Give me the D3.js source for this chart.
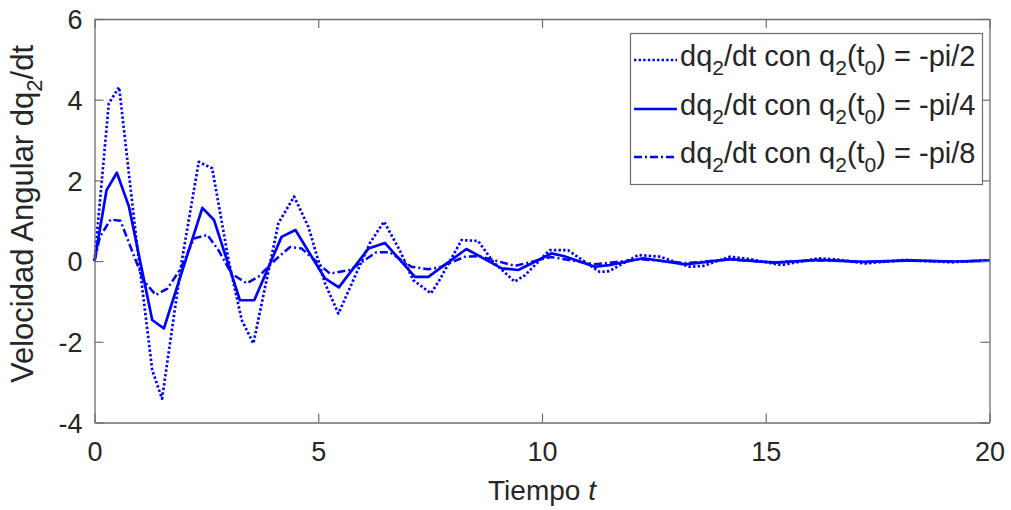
<!DOCTYPE html>
<html><head><meta charset="utf-8">
<script src="https://cdn.jsdelivr.net/npm/d3@7"></script>
<style>
html,body{margin:0;padding:0;background:#fff;}
text{font-family:"Liberation Sans",Arial,Helvetica,sans-serif;fill:#262626;}
</style></head>
<body><svg id="c" width="1011" height="510"></svg>
<script>
// ---- data ----
const xTicks = [0, 5, 10, 15, 20];
const yTicks = [-4, -2, 0, 2, 4, 6];

const tPi2 = [0,0.32,0.55,0.95,1.29,1.51,1.95,2.33,2.63,3.0,3.29,3.55,4.11,4.46,4.78,5.15,5.45,6.15,6.47,6.82,7.12,7.52,7.72,8.2,8.57,8.91,9.39,9.62,10.17,10.58,11.29,11.5,12.15,12.63,13.3,13.6,14.2,14.64,15.35,16.17,16.6,17.21,18.1,19.15,19.9,20];
const vPi2 = [0,3.91,4.31,0.4,-2.70,-3.41,0,2.46,2.30,0,-1.46,-2.04,0.94,1.60,0.85,-0.55,-1.30,0.44,0.98,0.27,-0.47,-0.80,-0.45,0.52,0.50,-0.02,-0.51,-0.35,0.27,0.27,-0.27,-0.25,0.15,0.11,-0.14,-0.12,0.11,0.05,-0.10,0.07,0.04,-0.06,0.03,-0.03,0.02,0.02];

const tPi4 = [0,0.27,0.50,0.77,1.29,1.55,2.41,2.67,3.25,3.57,4.18,4.49,5.15,5.46,6.12,6.49,7.16,7.46,8.31,9.10,9.47,10.21,10.5,11.18,11.5,12.26,13.2,14.2,15.2,16.2,17.2,18.2,19.2,20];
const vPi4 = [0,1.76,2.19,1.35,-1.46,-1.67,1.32,1.02,-0.97,-0.97,0.60,0.77,-0.43,-0.65,0.31,0.45,-0.39,-0.39,0.30,-0.18,-0.22,0.19,0.12,-0.14,-0.10,0.07,-0.08,0.05,-0.04,0.03,-0.02,0.02,-0.01,0.01];

const tPi8 = [0,0.12,0.36,0.58,1.09,1.37,1.63,1.93,2.22,2.52,2.77,3.06,3.40,3.66,4.03,4.37,4.63,5.26,5.71,6.3,6.6,7.08,7.45,7.7,8.28,8.6,9.4,10.2,11.2,12.2,13.2,14.2,15.2,16.2,17.2,18.2,19.2,20];
const vPi8 = [0,0.6,1.03,1.0,-0.47,-0.84,-0.68,-0.18,0.56,0.65,0.27,-0.31,-0.55,-0.39,0.02,0.35,0.31,-0.31,-0.22,0.22,0.22,-0.14,-0.20,-0.16,0.11,0.12,-0.12,0.10,-0.08,0.05,-0.05,0.04,-0.03,0.02,-0.02,0.01,-0.01,0.01];

const seriesNames = ["-pi/2", "-pi/4", "-pi/8"];

// ---- layout ----
const L = 94.5, R = 989.5, T = 19, B = 422.5;
const svg = d3.select("#c");
const x = d3.scaleLinear().domain([0, 20]).range([L, R]);
const y = d3.scaleLinear().domain([-4, 6]).range([B, T]);

const blue = "#0000ff";
const styles = [
  {dash: "2.4,2.2", w: 2.7},
  {dash: null, w: 2.7},
  {dash: "8,3,2,3", w: 2.5}
];
const series = [[tPi2, vPi2], [tPi4, vPi4], [tPi8, vPi8]];

const line = d3.line().x(d => x(d[0])).y(d => y(d[1]));
const gPlot = svg.append("g");
series.forEach((s, i) => {
  const pts = s[0].map((t, k) => [t, s[1][k]]);
  gPlot.append("path").attr("d", line(pts)).attr("fill", "none")
    .attr("stroke", blue).attr("stroke-width", styles[i].w)
    .attr("stroke-dasharray", styles[i].dash)
    .attr("stroke-linejoin", "round");
});

// ---- axes (box with inward ticks on all sides) ----
const axisColor = "#6e6e6e";
const tickLen = 9;
const fmt = d => String(d);
const gx = svg.append("g").attr("transform", `translate(0,${B})`)
  .call(d3.axisBottom(x).tickValues(xTicks).tickFormat(fmt).tickSizeInner(-tickLen).tickSizeOuter(0).tickPadding(19));
const gxTop = svg.append("g").attr("transform", `translate(0,${T})`)
  .call(d3.axisTop(x).tickValues(xTicks).tickSizeInner(-tickLen).tickSizeOuter(0).tickFormat(""));
const gy = svg.append("g").attr("transform", `translate(${L},0)`)
  .call(d3.axisLeft(y).tickValues(yTicks).tickFormat(fmt).tickSizeInner(-tickLen).tickSizeOuter(0).tickPadding(12));
const gyR = svg.append("g").attr("transform", `translate(${R},0)`)
  .call(d3.axisRight(y).tickValues(yTicks).tickSizeInner(-tickLen).tickSizeOuter(0).tickFormat(""));
[gx, gxTop, gy, gyR].forEach(g => {
  g.select(".domain").attr("stroke", axisColor).attr("stroke-width", 1.3);
  g.selectAll(".tick line").attr("stroke", axisColor).attr("stroke-width", 1.2);
  g.selectAll(".tick text").attr("font-size", 27).attr("fill", "#262626")
    .attr("font-family", '"Liberation Sans",Arial,sans-serif');
});
gy.selectAll(".tick text").attr("dy", "0.36em");

// ---- axis labels ----
const xl = svg.append("text").attr("x", x(10)).attr("y", 500).attr("text-anchor", "middle").attr("font-size", 28);
xl.append("tspan").text("Tiempo ");
xl.append("tspan").attr("font-style", "italic").text("t");

const yl = svg.append("text").attr("transform", `translate(33,214) rotate(-90)`)
  .attr("text-anchor", "middle").attr("font-size", 31);
yl.append("tspan").text("Velocidad Angular dq");
yl.append("tspan").attr("font-size", 22).attr("dy", 9).text("2");
yl.append("tspan").attr("dy", -9).text("/dt");

// ---- legend ----
const lg = svg.append("g");
lg.append("rect").attr("x", 630.5).attr("y", 33.5).attr("width", 352).attr("height", 151)
  .attr("fill", "#fff").attr("stroke", axisColor).attr("stroke-width", 1.2);
const rowY = [60, 109, 157];
seriesNames.forEach((nm, i) => {
  lg.append("line").attr("x1", 634).attr("x2", 677).attr("y1", rowY[i]).attr("y2", rowY[i])
    .attr("stroke", blue).attr("stroke-width", styles[i].w).attr("stroke-dasharray", styles[i].dash);
  const t = lg.append("text").attr("x", 680).attr("y", rowY[i] + 6).attr("font-size", 29);
  t.append("tspan").text("dq");
  t.append("tspan").attr("font-size", 21).attr("dy", 9).text("2");
  t.append("tspan").attr("dy", -9).text("/dt con q");
  t.append("tspan").attr("font-size", 21).attr("dy", 9).text("2");
  t.append("tspan").attr("dy", -9).text("(t");
  t.append("tspan").attr("font-size", 21).attr("dy", 9).text("0");
  t.append("tspan").attr("dy", -9).text(") = " + nm);
});
</script></body></html>
